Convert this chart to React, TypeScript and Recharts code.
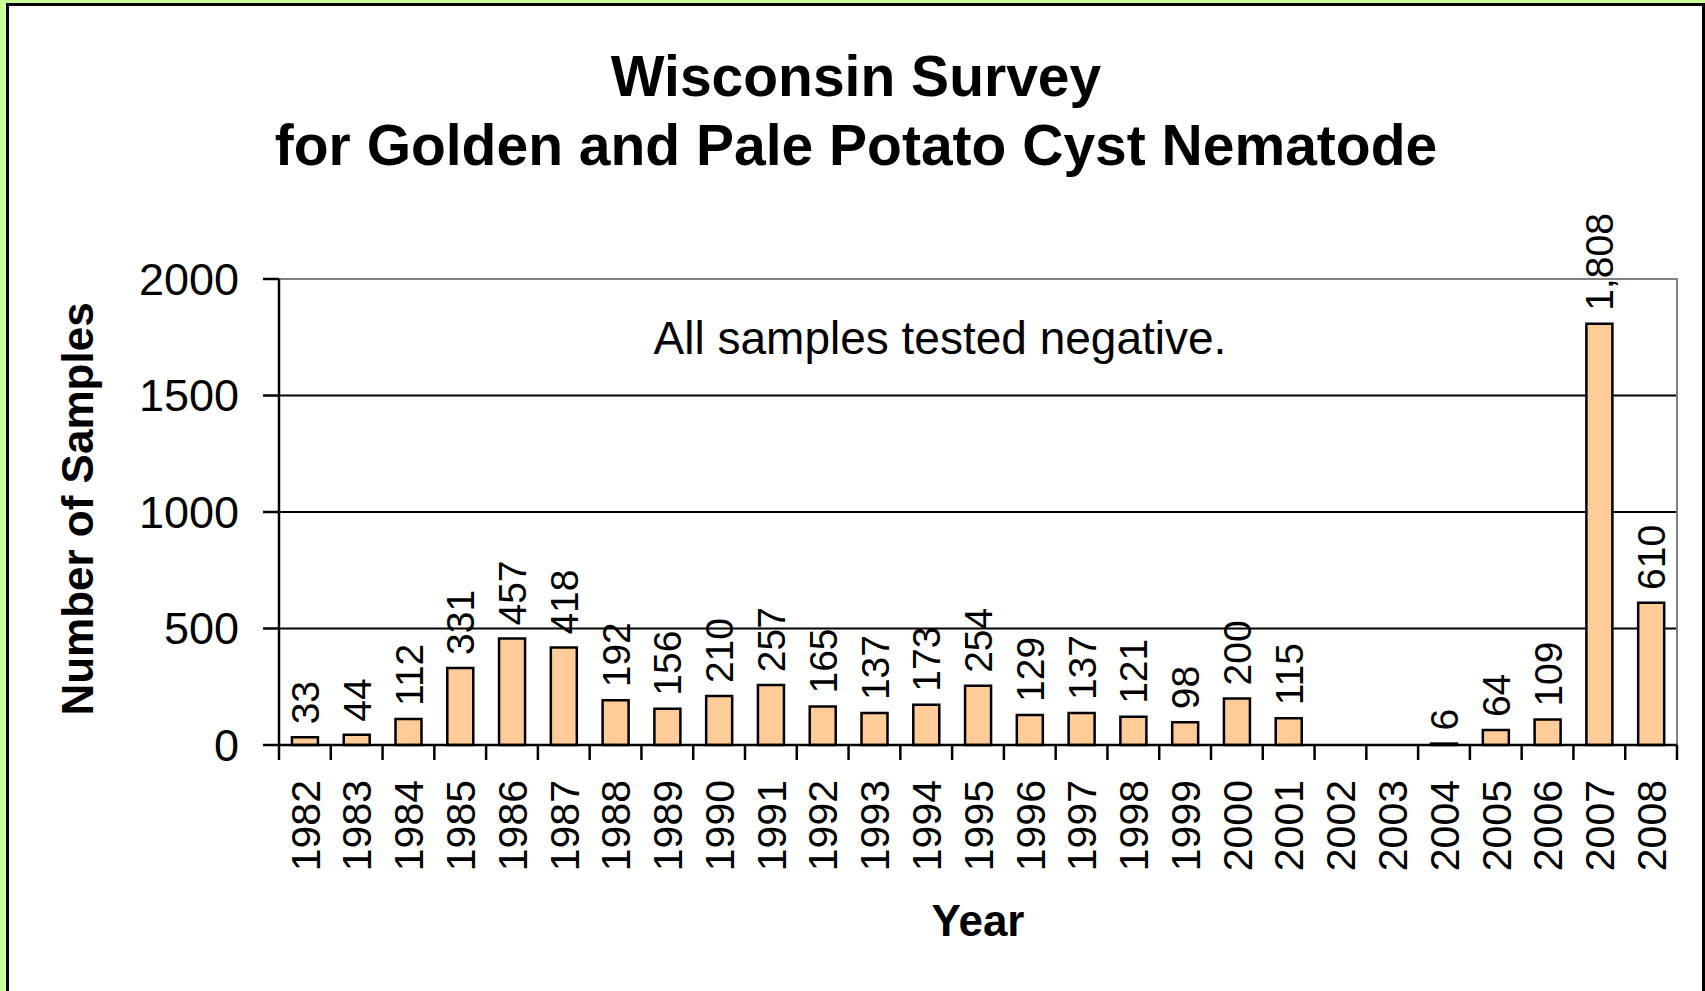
import { BarChart, Bar, XAxis, YAxis, CartesianGrid, ReferenceArea, LabelList } from 'recharts'

const years = ['1982', '1983', '1984', '1985', '1986', '1987', '1988', '1989', '1990', '1991', '1992', '1993', '1994', '1995', '1996', '1997', '1998', '1999', '2000', '2001', '2002', '2003', '2004', '2005', '2006', '2007', '2008']
const samples: (number | null)[] = [33, 44, 112, 331, 457, 418, 192, 156, 210, 257, 165, 137, 173, 254, 129, 137, 121, 98, 200, 115, null, null, 6, 64, 109, 1808, 610]
const yTicks = [0, 500, 1000, 1500, 2000]

const FONT = '"Liberation Sans", Arial, sans-serif'

const data = years.map((year, i) => ({ year, samples: samples[i] }))

// Excel style: tick marks sit between categories, labels rotated
const YearTick = (props: any) => {
  const { x, y, payload, index } = props
  const half = payload.offset ?? 0
  const ty = y + 35
  return (
    <g>
      <line x1={x - half} x2={x - half} y1={y} y2={y + 15} stroke="#000" strokeWidth={2.5} />
      {index === years.length - 1 && (
        <line x1={x + half} x2={x + half} y1={y} y2={y + 15} stroke="#000" strokeWidth={2.5} />
      )}
      <text x={x} y={ty} transform={`rotate(-90 ${x} ${ty})`} textAnchor="end" dy="0.36em"
        fontSize={41} fontFamily={FONT} fill="#000">
        {payload.value}
      </text>
    </g>
  )
}

const ValueLabel = (props: any) => {
  const { x, y, width, value } = props
  if (value == null) return null
  const cx = x + width / 2
  const cy = y - 13
  return (
    <text x={cx} y={cy} transform={`rotate(-90 ${cx} ${cy})`} textAnchor="start" dy="0.36em"
      fontSize={39} fontFamily={FONT} fill="#000">
      {Number(value).toLocaleString('en-US')}
    </text>
  )
}

export default function App() {
  return (
    <div style={{ position: 'absolute', left: 0, top: 0, width: 1705, height: 991, background: '#ccff99', overflow: 'hidden' }}>
      <div style={{ position: 'absolute', left: 6, top: 3, width: 1699, height: 1010, boxSizing: 'border-box', border: '3px solid #000', background: '#fff' }} />
      <div style={{ position: 'absolute', left: 0, top: 0 }}>
        <BarChart width={1705} height={991} data={data} margin={{ top: 279, right: 28, bottom: 126, left: 0 }} barCategoryGap="25%">
          <CartesianGrid vertical={false} stroke="#000" strokeWidth={2} />
          <ReferenceArea y1={0} y2={2000} fill="none" stroke="#808080" strokeWidth={2} />
          <XAxis dataKey="year" height={120} interval={0} tickSize={0} tickMargin={0}
            axisLine={{ stroke: '#000', strokeWidth: 2.5 }} tick={<YearTick />} />
          <YAxis width={279} domain={[0, 2000]} ticks={yTicks} interval={0} tickSize={16} tickMargin={24}
            axisLine={{ stroke: '#000', strokeWidth: 2.5 }} tickLine={{ stroke: '#000', strokeWidth: 2.5 }}
            tick={{ fontSize: 45, fontFamily: FONT, fill: '#000' }} />
          <Bar dataKey="samples" fill="#ffcc99" stroke="#000" strokeWidth={2.5} isAnimationActive={false}>
            <LabelList dataKey="samples" content={<ValueLabel />} />
          </Bar>
        </BarChart>
      </div>
      <svg width={1705} height={991} style={{ position: 'absolute', left: 0, top: 0, pointerEvents: 'none' }}>
        <g fontFamily={FONT} fill="#000">
          <text x={856} y={96} textAnchor="middle" fontSize={57} fontWeight="bold">Wisconsin Survey</text>
          <text x={856} y={165} textAnchor="middle" fontSize={57} fontWeight="bold">for Golden and Pale Potato Cyst Nematode</text>
          <text x={940} y={354} textAnchor="middle" fontSize={46}>All samples tested negative.</text>
          <text x={978} y={936} textAnchor="middle" fontSize={44} fontWeight="bold">Year</text>
          <text x={93} y={509} textAnchor="middle" fontSize={44} fontWeight="bold" transform="rotate(-90 93 509)">Number of Samples</text>
        </g>
      </svg>
    </div>
  )
}
